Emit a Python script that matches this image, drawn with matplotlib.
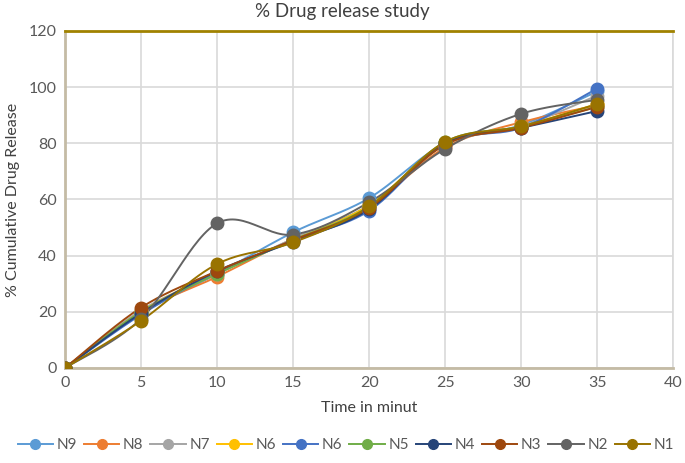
import numpy as np
import matplotlib
matplotlib.use("Agg")
import matplotlib.pyplot as plt

time_min = [0, 5, 10, 15, 20, 25, 30, 35]
series_names = ["N9", "N8", "N7", "N6", "N6", "N5", "N4", "N3", "N2", "N1"]
N9 = [0, 19.5, 33.5, 48.3, 60.5, 80.0, 86.5, 98.5]
N8 = [0, 20.0, 32.5, 46.0, 57.5, 78.5, 87.5, 93.5]
N7 = [0, 20.5, 33.5, 46.0, 58.0, 79.5, 86.0, 97.0]
N6a = [0, 20.0, 34.0, 45.5, 58.0, 80.0, 86.0, 94.0]
N6b = [0, 19.0, 34.0, 45.5, 56.0, 80.0, 85.5, 99.5]
N5 = [0, 20.0, 33.5, 45.5, 57.5, 80.5, 86.0, 93.0]
N4 = [0, 19.5, 34.5, 45.0, 56.5, 80.0, 85.5, 91.5]
N3 = [0, 21.5, 34.5, 45.5, 57.0, 79.5, 85.5, 93.0]
N2 = [0, 17.5, 51.5, 47.5, 59.0, 78.0, 90.5, 95.5]
N1 = [0, 16.8, 37.0, 44.7, 57.5, 80.5, 86.0, 94.0]
all_series = [N9, N8, N7, N6a, N6b, N5, N4, N3, N2, N1]
colors = ["#5B9BD5", "#ED7D31", "#A5A5A5", "#FFC000", "#4472C4",
          "#70AD47", "#264478", "#9E480E", "#636363", "#997300"]

plt.rcParams['font.family'] = ['Lato', 'DejaVu Sans']


def smooth(xs, ys, n=30):
    # Excel-style smoothed line: cubic Bezier with Catmull-Rom control points
    xs = np.asarray(xs, float)
    ys = np.asarray(ys, float)
    px = np.concatenate([[xs[0]], xs, [xs[-1]]])
    py = np.concatenate([[ys[0]], ys, [ys[-1]]])
    t = np.linspace(0, 1, n)
    ox, oy = [], []
    for i in range(1, len(px) - 2):
        p0 = np.array([px[i - 1], py[i - 1]])
        p1 = np.array([px[i], py[i]])
        p2 = np.array([px[i + 1], py[i + 1]])
        p3 = np.array([px[i + 2], py[i + 2]])
        c1 = p1 + (p2 - p0) / 6.0
        c2 = p2 - (p3 - p1) / 6.0
        b = ((1 - t) ** 3)[:, None] * p1 + (3 * (1 - t) ** 2 * t)[:, None] * c1 \
            + (3 * (1 - t) * t ** 2)[:, None] * c2 + (t ** 3)[:, None] * p2
        ox.extend(b[:, 0])
        oy.extend(b[:, 1])
    return np.array(ox), np.array(oy)


fig = plt.figure(figsize=(6.85, 4.63), dpi=100)
ax = fig.add_axes([0.0949, 0.2052, 0.888, 0.728])

handles = []
for name, vals, c in zip(series_names, all_series, colors):
    sx, sy = smooth(time_min, vals)
    ax.plot(sx, sy, color=c, lw=1.4, zorder=3)
    ax.plot(time_min, vals, linestyle='none', marker='o', ms=9,
            color=c, zorder=4)
    h, = ax.plot([], [], color=c, lw=1.4, marker='o', ms=7, label=name)
    handles.append(h)

ax.set_xlim(0, 40)
ax.set_ylim(0, 120)
ax.set_xticks(range(0, 41, 5))
ax.set_yticks(range(0, 121, 20))
ax.grid(True, color="#D9D9D9", lw=1.2, zorder=0)
ax.set_axisbelow(True)
ax.tick_params(axis='both', length=0, labelsize=11.5, labelcolor="#595959", pad=6)

for s in ["left", "bottom"]:
    ax.spines[s].set_color("#C4BBA5")
    ax.spines[s].set_linewidth(2)
ax.spines["top"].set_color("#A08200")
ax.spines["top"].set_linewidth(2)
ax.spines["right"].set_color("#D9D9D9")
ax.spines["right"].set_linewidth(1.2)

ax.set_xlabel("Time in minut", fontsize=11.5, color="#404040", labelpad=8)
ax.set_ylabel("% Cumulative Drug Release", fontsize=11.5, color="#404040", labelpad=6)
fig.text(0.5, 0.975, "% Drug release study", ha='center', va='center',
         fontsize=13.5, color="#404040")

fig.legend(handles=handles, loc='center', bbox_to_anchor=(0.505, 0.038),
           ncol=10, frameon=False, fontsize=11, handlelength=2.3,
           handletextpad=0.25, columnspacing=0.45, labelcolor="#595959",
           borderaxespad=0, borderpad=0)

fig.savefig("out.png", dpi=100)
